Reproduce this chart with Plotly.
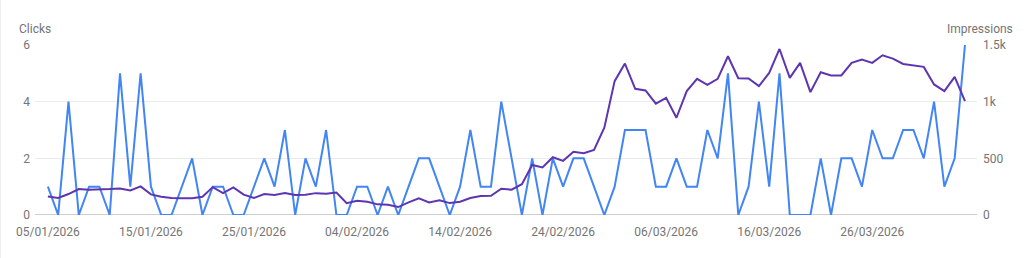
import pandas as pd
import plotly.graph_objects as go

dates = pd.date_range("2026-01-05", periods=90, freq="D")

clicks = [1, 0, 4, 0, 1, 1, 0, 5, 1, 5,
          1, 0, 0, 1, 2, 0, 1, 1, 0, 0,
          1, 2, 1, 3, 0, 2, 1, 3, 0, 0,
          1, 1, 0, 1, 0, 1, 2, 2, 1, 0,
          1, 3, 1, 1, 4, 2, 0, 2, 0, 2,
          1, 2, 2, 1, 0, 1, 3, 3, 3, 1,
          1, 2, 1, 1, 3, 2, 5, 0, 1, 4,
          1, 5, 0, 0, 0, 2, 0, 2, 2, 1,
          3, 2, 2, 3, 3, 2, 4, 1, 2, 6]

impressions = [164, 150, 185, 229, 223, 223, 229, 234, 217, 252,
               182, 161, 150, 147, 147, 161, 246, 193, 243, 180,
               150, 185, 176, 193, 176, 179, 193, 188, 199, 105,
               126, 117, 94, 91, 70, 111, 147, 111, 129, 105,
               117, 150, 167, 170, 232, 223, 272, 442, 419, 510,
               478, 557, 545, 574, 771, 1181, 1336, 1113, 1099, 982,
               1034, 858, 1093, 1201, 1149, 1201, 1401, 1207, 1204, 1137,
               1254, 1465, 1210, 1342, 1084, 1260, 1231, 1231, 1342, 1371,
               1342, 1409, 1380, 1333, 1321, 1307, 1152, 1093, 1219, 1005]

x_tick_labels = ["05/01/2026", "15/01/2026", "25/01/2026", "04/02/2026",
                 "14/02/2026", "24/02/2026", "06/03/2026", "16/03/2026",
                 "26/03/2026"]
x_tick_vals = pd.to_datetime(x_tick_labels, format="%d/%m/%Y")

left_ticks = [0, 2, 4, 6]
right_ticks = [0, 500, 1000, 1500]
right_tick_text = ["0", "500", "1k", "1.5k"]

FONT = "Roboto"
TXT = "#757575"

fig = go.Figure()
fig.add_trace(go.Scatter(x=dates, y=impressions, yaxis="y2", mode="lines",
                         line=dict(color="#5e35b1", width=2), name="Impressions",
                         hoverinfo="skip"))
fig.add_trace(go.Scatter(x=dates, y=clicks, mode="lines",
                         line=dict(color="#4285f4", width=2), name="Clicks",
                         hoverinfo="skip"))

x0 = dates[0] - pd.Timedelta(hours=30)
x1 = dates[-1] + pd.Timedelta(hours=28)

fig.update_layout(
    width=1024, height=258,
    margin=dict(l=35, r=47, t=45, b=43),
    paper_bgcolor="white", plot_bgcolor="white",
    showlegend=False,
    font=dict(family=FONT, size=12, color=TXT),
    xaxis=dict(type="date", range=[x0, x1], tickvals=x_tick_vals,
               ticktext=x_tick_labels, showgrid=False, zeroline=False,
               showline=False, ticks="", ticklabelstandoff=8,
               tickfont=dict(size=12, color=TXT)),
    yaxis=dict(range=[0, 6], tickvals=left_ticks, showgrid=True,
               gridcolor="#ebebeb", gridwidth=1, zeroline=False,
               showline=False, ticks="", ticklabelstandoff=4,
               tickfont=dict(size=12, color=TXT)),
    yaxis2=dict(range=[0, 1500], tickvals=right_ticks, ticktext=right_tick_text,
                overlaying="y", side="right", showgrid=False, zeroline=False,
                showline=False, ticks="", ticklabelstandoff=5,
                tickfont=dict(size=12, color=TXT)),
    shapes=[
        dict(type="line", xref="paper", yref="y", x0=0, x1=1, y0=0, y1=0,
             line=dict(color="#9e9e9e", width=1), layer="below"),
        dict(type="line", xref="paper", yref="paper", x0=-35/942, x1=-35/942,
             y0=-1, y1=2, line=dict(color="#eeeeee", width=2)),
    ],
    annotations=[
        dict(text="Clicks", xref="paper", yref="paper", x=-18/942, y=1 + 16/170,
             xanchor="left", yanchor="middle", showarrow=False,
             font=dict(size=12, color=TXT, family=FONT)),
        dict(text="Impressions", xref="paper", yref="paper", x=1 + 38/942, y=1 + 16/170,
             xanchor="right", yanchor="middle", showarrow=False,
             font=dict(size=12, color=TXT, family=FONT)),
    ],
)

fig.write_html("out.html")
